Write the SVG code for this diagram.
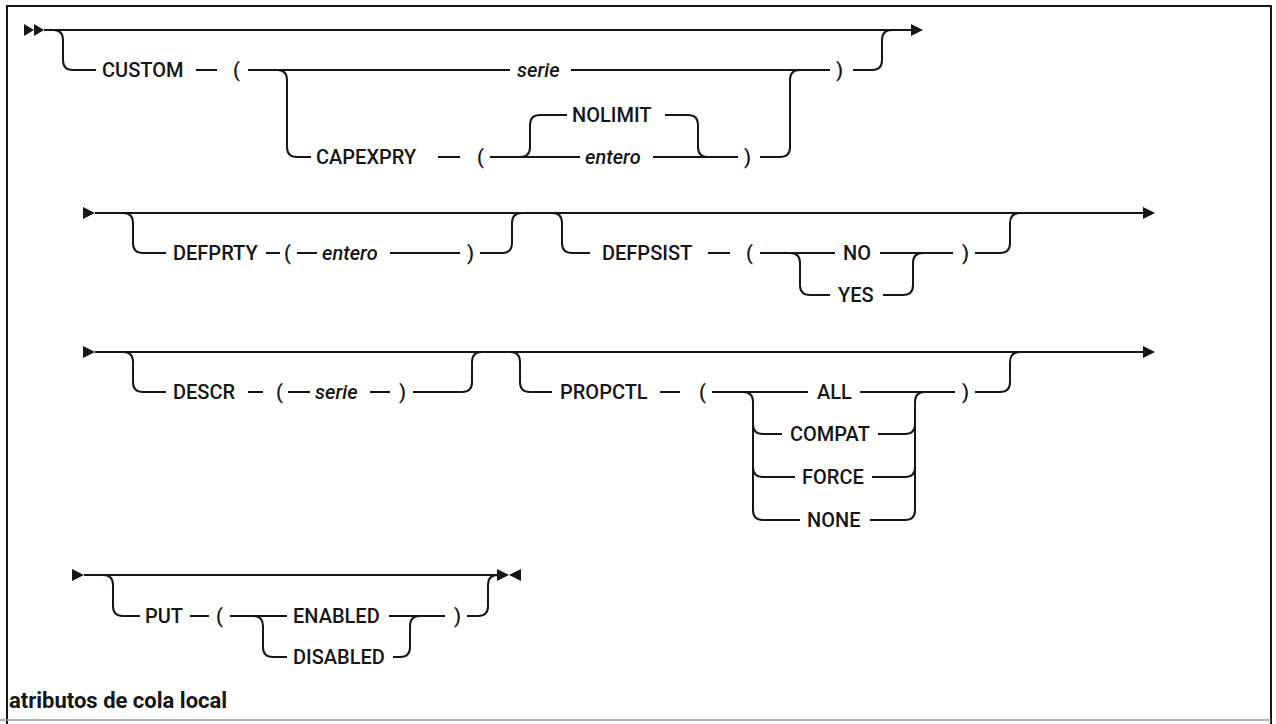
<svg xmlns="http://www.w3.org/2000/svg" width="1276" height="724" viewBox="0 0 1276 724">
<style>
.t{font-family:Roboto,"Liberation Sans",sans-serif;font-size:20px;font-weight:500;fill:#161616}
.i{font-style:italic}
.ln{fill:none;stroke:#161616;stroke-width:2}
.ah{fill:#161616}
.title{font-family:Roboto,"Liberation Sans",sans-serif;font-size:22px;font-weight:700;fill:#161616}
</style>
<rect width="1276" height="724" fill="#fff"/>
<g id="frame">
<path d="M7,724 V6 H1271 V724" fill="none" stroke="#161616" stroke-width="2"/>
<line x1="0" y1="720" x2="1271" y2="720" stroke="#999" stroke-width="1.5"/>
</g>
<g id="connectors">
<!-- row 1 -->
<polygon class="ah" points="24,24 34,30 24,36"/>
<polygon class="ah" points="34,24 44,30 34,36"/>
<path class="ln" d="M44,30 H911"/>
<polygon class="ah" points="911,24 923,30 911,36"/>
<path class="ln" d="M53,30 Q63,30 63,40 V60 Q63,70 73,70 H96"/>
<path class="ln" d="M196,70 H217"/>
<path class="ln" d="M248,70 H510 M571,70 H830"/>
<path class="ln" d="M277,70 Q287,70 287,80 V147 Q287,157 297,157 H311"/>
<path class="ln" d="M438,157 H460"/>
<path class="ln" d="M490,157 H580 M653,157 H738"/>
<path class="ln" d="M520,157 Q530,157 530,147 V125 Q530,115 540,115 H567"/>
<path class="ln" d="M665,115 H688 Q698,115 698,125 V147 Q698,157 708,157"/>
<path class="ln" d="M760,157 H780 Q790,157 790,147 V80 Q790,70 800,70"/>
<path class="ln" d="M853,70 H872 Q882,70 882,60 V40 Q882,30 892,30"/>
<!-- row 2 -->
<polygon class="ah" points="83,207 95,213 83,219"/>
<path class="ln" d="M95,213 H1143"/>
<polygon class="ah" points="1143,207 1155,213 1143,219"/>
<path class="ln" d="M123,213 Q133,213 133,223 V243 Q133,253 143,253 H166"/>
<path class="ln" d="M266,253 H280 M297,253 H317 M390,253 H460"/>
<path class="ln" d="M480,253 H502 Q512,253 512,243 V223 Q512,213 522,213"/>
<path class="ln" d="M552,213 Q562,213 562,223 V243 Q562,253 572,253 H590"/>
<path class="ln" d="M708,253 H730 M760,253 H835 M880,253 H953"/>
<path class="ln" d="M790,253 Q800,253 800,263 V285 Q800,295 810,295 H830"/>
<path class="ln" d="M883,295 H903 Q913,295 913,285 V263 Q913,253 923,253"/>
<path class="ln" d="M975,253 H1000 Q1010,253 1010,243 V223 Q1010,213 1020,213"/>
<!-- row 3 -->
<polygon class="ah" points="83,346 95,352 83,358"/>
<path class="ln" d="M95,352 H1143"/>
<polygon class="ah" points="1143,346 1155,352 1143,358"/>
<path class="ln" d="M123,352 Q133,352 133,362 V382 Q133,392 143,392 H166"/>
<path class="ln" d="M248,392 H263 M288,392 H310 M370,392 H390"/>
<path class="ln" d="M413,392 H462 Q472,392 472,382 V362 Q472,352 482,352"/>
<path class="ln" d="M510,352 Q520,352 520,362 V382 Q520,392 530,392 H552"/>
<path class="ln" d="M660,392 H680 M712,392 H808 M860,392 H955"/>
<path class="ln" d="M743,392 Q753,392 753,402 V510 Q753,520 763,520 H800"/>
<path class="ln" d="M753,424 Q753,434 763,434 H782"/>
<path class="ln" d="M753,467 Q753,477 763,477 H795"/>
<path class="ln" d="M878,434 H905 Q915,434 915,424"/>
<path class="ln" d="M872,477 H905 Q915,477 915,467"/>
<path class="ln" d="M870,520 H905 Q915,520 915,510 V402 Q915,392 925,392"/>
<path class="ln" d="M975,392 H1000 Q1010,392 1010,382 V362 Q1010,352 1020,352"/>
<!-- row 4 -->
<polygon class="ah" points="72,569 84,575 72,581"/>
<path class="ln" d="M84,575 H497"/>
<polygon class="ah" points="497,569 509,575 497,581"/>
<polygon class="ah" points="521,569 509,575 521,581"/>
<path class="ln" d="M103,575 Q113,575 113,585 V606 Q113,616 123,616 H140"/>
<path class="ln" d="M190,616 H209 M230,616 H287 M389,616 H445"/>
<path class="ln" d="M253,616 Q263,616 263,626 V647 Q263,657 273,657 H287"/>
<path class="ln" d="M393,657 H400 Q410,657 410,647 V626 Q410,616 420,616"/>
<path class="ln" d="M467,616 H478 Q488,616 488,606 V585 Q488,575 498,575"/>
</g>
<g id="n-custom"><text class="t" x="102" y="77">CUSTOM</text><text class="t" x="233" y="77">(</text></g>
<g id="n-serie1"><text class="t i" x="517" y="77">serie</text><text class="t" x="836" y="77">)</text></g>
<g id="n-capexpry"><text class="t" x="316" y="164">CAPEXPRY</text><text class="t" x="477" y="164">(</text></g>
<g id="n-nolimit"><text class="t" x="572" y="122">NOLIMIT</text></g>
<g id="n-entero1"><text class="t i" x="585" y="164">entero</text><text class="t" x="744" y="164">)</text></g>
<g id="n-defprty"><text class="t" x="173" y="260">DEFPRTY</text><text class="t" x="284" y="260">(</text><text class="t i" x="322" y="260">entero</text><text class="t" x="467" y="260">)</text></g>
<g id="n-defpsist"><text class="t" x="602" y="260">DEFPSIST</text><text class="t" x="746" y="260">(</text><text class="t" x="962" y="260">)</text></g>
<g id="n-no"><text class="t" x="843" y="260">NO</text></g>
<g id="n-yes"><text class="t" x="838" y="302">YES</text></g>
<g id="n-descr"><text class="t" x="173" y="399">DESCR</text><text class="t" x="276" y="399">(</text><text class="t i" x="315" y="399">serie</text><text class="t" x="399" y="399">)</text></g>
<g id="n-propctl"><text class="t" x="560" y="399">PROPCTL</text><text class="t" x="699" y="399">(</text><text class="t" x="962" y="399">)</text></g>
<g id="n-all"><text class="t" x="817" y="399">ALL</text></g>
<g id="n-compat"><text class="t" x="790" y="441">COMPAT</text></g>
<g id="n-force"><text class="t" x="802" y="484">FORCE</text></g>
<g id="n-none"><text class="t" x="807" y="527">NONE</text></g>
<g id="n-put"><text class="t" x="145" y="623">PUT</text><text class="t" x="216" y="623">(</text><text class="t" x="454" y="623">)</text></g>
<g id="n-enabled"><text class="t" x="293" y="623">ENABLED</text></g>
<g id="n-disabled"><text class="t" x="293" y="664">DISABLED</text></g>
<g id="title"><text class="title" x="9" y="708">atributos de cola local</text></g>
</svg>
